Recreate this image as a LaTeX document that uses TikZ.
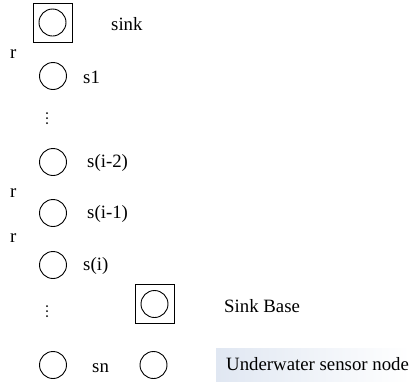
\documentclass[tikz,border=0pt]{standalone}
\usepackage{fontspec}
\setmainfont{Liberation Serif}
\definecolor{legbg}{RGB}{224,231,242}
\begin{document}
\begin{tikzpicture}[x=1pt,y=-1pt,
  sensor/.style={circle,draw,line width=0.9pt,minimum size=27pt,inner sep=0pt},
  sinkbox/.style={rectangle,draw,line width=0.9pt,minimum size=39pt,inner sep=0pt},
  lbl/.style={anchor=base west,inner sep=0pt,font=\fontsize{18.8}{21}\selectfont},
  dotv/.style={circle,fill,inner sep=0pt,minimum size=2pt}]
\useasboundingbox (0,0) rectangle (410,381);
% legend background
\shade[left color=legbg, right color=white] (216,348) rectangle (410,381);
% sink
\node[sinkbox] (sinkb) at (52.5,22.5) {};
\node[sensor] (sinkc) at (52.5,22.5) {};
\node[lbl] (tsink) at (111,30) {sink};
\node[lbl] (r1) at (10,58) {r};
% s1
\node[sensor] (s1) at (53,76) {};
\node[lbl] (ts1) at (83,83) {s1};
% dots
\node[dotv] (d1) at (47,113) {};
\node[dotv] (d2) at (47,118) {};
\node[dotv] (d3) at (47,123) {};
% s(i-2)
\node[sensor] (si2) at (53,162) {};
\node[lbl] (tsi2) at (87,167) {s(i-2)};
\node[lbl] (r2) at (10,197) {r};
% s(i-1)
\node[sensor] (si1) at (53,213) {};
\node[lbl] (tsi1) at (87,218) {s(i-1)};
\node[lbl] (r3) at (10,242) {r};
% s(i)
\node[sensor] (si) at (53,265) {};
\node[lbl] (tsi) at (83,270) {s(i)};
% dots
\node[dotv] (e1) at (47,306) {};
\node[dotv] (e2) at (47,311) {};
\node[dotv] (e3) at (47,316) {};
% sink base legend
\node[sinkbox] (lsb) at (154.5,304) {};
\node[sensor] (lsc) at (154.5,304) {};
\node[lbl] (tlsb) at (224,312) {Sink Base};
% sn
\node[sensor] (sn) at (53,365) {};
\node[lbl] (tsn) at (92,372) {sn};
\node[sensor] (lsn) at (153.5,365) {};
\node[lbl] (tlsn) at (226,370) {Underwater sensor node};
\end{tikzpicture}
\end{document}
